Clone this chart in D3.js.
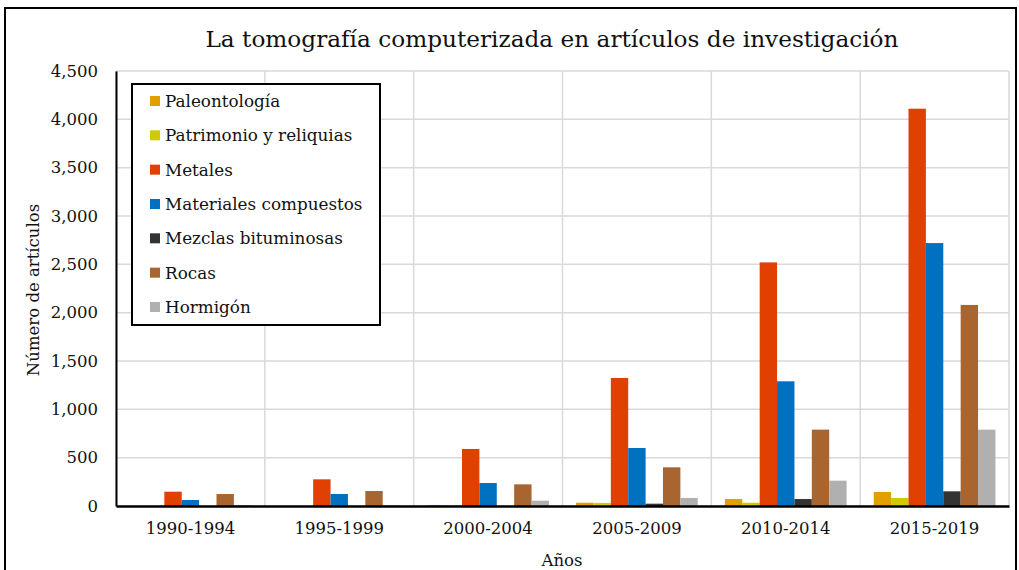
<!DOCTYPE html>
<html><head><meta charset="utf-8">
<script src="https://cdn.jsdelivr.net/npm/d3@7"></script>
<style>body{margin:0;background:#fff}svg{display:block}</style>
</head><body>
<svg id="c" width="1019" height="570"></svg>
<script>
const categories = ["1990-1994","1995-1999","2000-2004","2005-2009","2010-2014","2015-2019"];
const seriesNames = ["Paleontología","Patrimonio y reliquias","Metales","Materiales compuestos","Mezclas bituminosas","Rocas","Hormigón"];
const paleontologia = [0, 0, 10, 34, 72, 145];
const patrimonio = [0, 0, 5, 32, 34, 83];
const metales = [148, 276, 590, 1324, 2520, 4110];
const materiales = [62, 124, 238, 600, 1290, 2720];
const mezclas = [0, 0, 0, 24, 72, 152];
const rocas = [124, 155, 224, 400, 790, 2080];
const hormigon = [10, 8, 55, 83, 262, 790];
const yTicks = [0,500,1000,1500,2000,2500,3000,3500,4000,4500];
const colors = ["#E2A000","#D2CA00","#E04000","#0070C0","#333333","#A8652F","#B0B0B0"];
const values = [paleontologia, patrimonio, metales, materiales, mezclas, rocas, hormigon];

const svg = d3.select("#c");
const font = "'DejaVu Serif', 'Liberation Serif', serif";
const L = 116, R = 1009, T = 71, B = 506;

svg.append("rect").attr("x",5).attr("y",8).attr("width",1011).attr("height",600)
  .attr("fill","#fff").attr("stroke","#000").attr("stroke-width",2);

const x = d3.scaleBand().domain(categories).range([L,R]).paddingInner(0).paddingOuter(0);
const x1 = d3.scaleBand().domain(seriesNames).range([0, x.bandwidth()]).paddingOuter(0.78).paddingInner(0);
const y = d3.scaleLinear().domain([0,4500]).range([B,T]);

// gridlines
svg.append("g").selectAll("line").data(yTicks).join("line")
  .attr("x1",L).attr("x2",R).attr("y1",d=>y(d)).attr("y2",d=>y(d))
  .attr("stroke","#d9d9d9").attr("stroke-width",1.5);
const bounds = categories.map(c=>x(c)+x.bandwidth()).concat([L]);
svg.append("g").selectAll("line").data(bounds).join("line")
  .attr("x1",d=>d).attr("x2",d=>d).attr("y1",T).attr("y2",B)
  .attr("stroke","#d9d9d9").attr("stroke-width",1.5);

// bars
const g = svg.append("g");
seriesNames.forEach((s,si)=>{
  g.append("g").selectAll("rect").data(categories).join("rect")
    .attr("x",c=>x(c)+x1(s)).attr("width",x1.bandwidth())
    .attr("y",(c,i)=>y(values[si][i])).attr("height",(c,i)=>B-y(values[si][i]))
    .attr("fill",colors[si]);
});

// axes
const yAxis = svg.append("g").attr("transform",`translate(${L},0)`)
  .call(d3.axisLeft(y).tickValues(yTicks).tickSize(0).tickPadding(18).tickFormat(d3.format(",")));
yAxis.select(".domain").attr("stroke","#000").attr("stroke-width",2);
yAxis.selectAll("text").attr("font-family",font).attr("font-size",16.5).attr("fill","#111");

const xAxis = svg.append("g").attr("transform",`translate(0,${B})`)
  .call(d3.axisBottom(x).tickSize(0).tickPadding(16));
xAxis.select(".domain").attr("stroke","#000").attr("stroke-width",2.5);
xAxis.selectAll("text").attr("font-family",font).attr("font-size",16.5).attr("fill","#111");

// titles
svg.append("text").attr("x",552).attr("y",47).attr("text-anchor","middle")
  .attr("font-family",font).attr("font-size",23.2).attr("fill","#111")
  .text("La tomografía computerizada en artículos de investigación");
svg.append("text").attr("x",562).attr("y",566).attr("text-anchor","middle")
  .attr("font-family",font).attr("font-size",16.5).attr("fill","#111").text("Años");
svg.append("text").attr("transform","translate(39,290) rotate(-90)").attr("text-anchor","middle")
  .attr("font-family",font).attr("font-size",16.5).attr("fill","#111").text("Número de artículos");

// legend
const lg = svg.append("g");
lg.append("rect").attr("x",132).attr("y",84).attr("width",248).attr("height",241)
  .attr("fill","#fff").attr("stroke","#000").attr("stroke-width",2);
const rowY = d3.scalePoint().domain(seriesNames).range([101,307]);
seriesNames.forEach((s,i)=>{
  lg.append("rect").attr("x",150).attr("y",rowY(s)-5).attr("width",10).attr("height",10).attr("fill",colors[i]);
  lg.append("text").attr("x",165).attr("y",rowY(s)+6).attr("font-family",font).attr("font-size",16.8)
    .attr("fill","#111").text(s);
});
</script>
</body></html>
